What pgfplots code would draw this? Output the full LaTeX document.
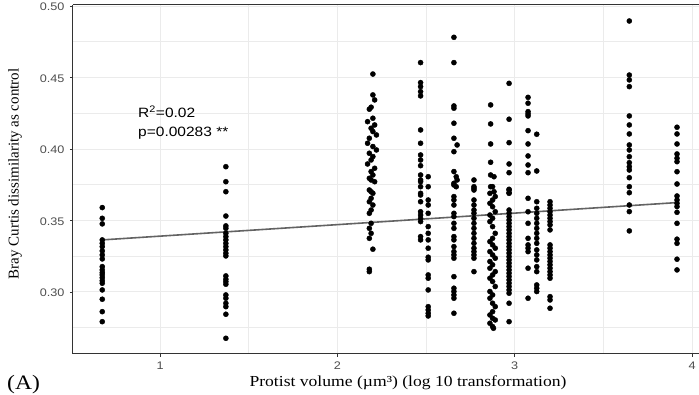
\documentclass[border=0pt]{standalone}
\usepackage{fontspec}
\setmainfont{Liberation Serif}
\setsansfont{Liberation Sans}
\newfontfamily\hserif[FakeStretch=1.15]{Liberation Serif}
\newfontfamily\hsans[FakeStretch=1.15]{Liberation Sans}
\usepackage{pgfplots}
\pgfplotsset{compat=1.18}
\definecolor{gridc}{HTML}{EBEBEB}
\definecolor{tickc}{HTML}{4D4D4D}
\definecolor{axc}{HTML}{333333}
\definecolor{linec}{HTML}{636363}
\begin{document}
\begin{tikzpicture}
\begin{axis}[
  name=ax, at={(0,0)}, anchor=south west,
  scale only axis, width=626pt, height=349pt,
  xmin=0.509, xmax=4.039, ymin=0.2566, ymax=0.5007,
  axis line style={draw=none},
  xtick={1,2,3,4}, ytick={0.30,0.35,0.40,0.45,0.50},
  minor xtick={0.5,1.5,2.5,3.5},
  minor ytick={0.275,0.325,0.375,0.425,0.475},
  grid=both,
  major grid style={gridc, line width=0.9pt},
  minor grid style={gridc, line width=0.6pt},
  xtick pos=bottom, ytick pos=left,
  tick align=outside, major tick length=3pt, minor tick length=0pt,
  tick style={axc, line width=0.8pt},
  /pgf/number format/assume math mode=true,
  ticklabel style={font=\hsans\fontsize{11}{11}\selectfont, text=tickc},
  yticklabel style={/pgf/number format/fixed, /pgf/number format/fixed zerofill, /pgf/number format/precision=2, xshift=-2pt, yshift=-1pt},
  xticklabel style={yshift=-1pt},
]
\addplot[only marks, mark=*, mark size=2.55pt, black] coordinates {
(0.674,0.359) (0.674,0.3515) (0.674,0.3476) (0.674,0.3364) (0.674,0.334) (0.674,0.3317) (0.674,0.3287) (0.674,0.3259) (0.674,0.3231) (0.674,0.3177) (0.674,0.3154) (0.674,0.3135) (0.674,0.3119) (0.674,0.31) (0.674,0.3079) (0.674,0.3061) (0.674,0.3014) (0.674,0.2949) (0.674,0.2862) (0.674,0.2792)
(1.371,0.3876) (1.371,0.3771) (1.371,0.3701) (1.371,0.3531) (1.371,0.3462) (1.371,0.3445) (1.371,0.341) (1.371,0.3387) (1.371,0.3364) (1.371,0.334) (1.371,0.3317) (1.371,0.3294) (1.371,0.3271) (1.371,0.3252) (1.371,0.3112) (1.371,0.3089) (1.371,0.3072) (1.371,0.3054) (1.371,0.2979) (1.371,0.2956) (1.371,0.2921) (1.371,0.2897) (1.371,0.2844) (1.371,0.2676)
(2.20,0.4524) (2.20,0.4378) (2.21,0.4343) (2.19,0.4292) (2.18,0.4278) (2.20,0.4215) (2.17,0.4191) (2.21,0.4168) (2.19,0.4145) (2.20,0.4122) (2.22,0.4098) (2.18,0.4075) (2.17,0.404) (2.20,0.4017) (2.22,0.3993) (2.18,0.397) (2.20,0.3947) (2.19,0.3923) (2.17,0.3895) (2.21,0.3865) (2.19,0.3842) (2.20,0.3818) (2.18,0.3795) (2.21,0.3771) (2.19,0.3701)
(2.19,0.3783) (2.18,0.3713) (2.20,0.369) (2.19,0.3655) (2.18,0.3631) (2.20,0.3608) (2.19,0.3573) (2.18,0.355) (2.19,0.348) (2.18,0.3445) (2.19,0.341) (2.18,0.3375) (2.20,0.3299) (2.18,0.3159) (2.18,0.3142)
(2.469,0.4604) (2.469,0.4464) (2.469,0.4436) (2.469,0.4401) (2.469,0.4371) (2.469,0.4133) (2.469,0.404) (2.469,0.3958) (2.469,0.3923) (2.469,0.3883) (2.469,0.3818) (2.469,0.3783) (2.469,0.3736) (2.469,0.369) (2.469,0.3771) (2.469,0.3678) (2.469,0.3631) (2.469,0.3561) (2.469,0.3538) (2.469,0.3515) (2.469,0.3492) (2.469,0.3387) (2.469,0.3364)
(2.512,0.3806) (2.512,0.3736) (2.512,0.3643) (2.512,0.3608) (2.512,0.355) (2.512,0.3457) (2.512,0.341) (2.512,0.3364) (2.512,0.3306) (2.512,0.3243) (2.512,0.3224) (2.512,0.3119) (2.512,0.3096) (2.512,0.3014) (2.512,0.2897) (2.512,0.2874) (2.512,0.2851) (2.512,0.2832)
(2.657,0.4781) (2.657,0.4604) (2.657,0.4301) (2.657,0.4285) (2.657,0.418) (2.657,0.4075) (2.675,0.4028) (2.657,0.3981) (2.657,0.3842) (2.67,0.3806) (2.675,0.3783) (2.657,0.3748) (2.67,0.3736) (2.657,0.376) (2.657,0.3667) (2.657,0.3643) (2.657,0.3608) (2.657,0.355) (2.657,0.3527) (2.657,0.348) (2.657,0.3445) (2.657,0.3387) (2.657,0.3364) (2.657,0.3317) (2.657,0.3282) (2.657,0.3259) (2.657,0.3236) (2.657,0.3107) (2.657,0.3026) (2.657,0.3003) (2.657,0.2979) (2.657,0.2956) (2.657,0.2851)
(2.77,0.3783) (2.77,0.3736) (2.77,0.3713) (2.77,0.3725) (2.77,0.3643) (2.77,0.3608) (2.77,0.3573) (2.77,0.355) (2.77,0.3515) (2.77,0.348) (2.77,0.3445) (2.77,0.341) (2.77,0.3375) (2.77,0.334) (2.77,0.3306) (2.77,0.3282) (2.77,0.3259) (2.77,0.3236) (2.77,0.3142)
(2.864,0.4308) (2.864,0.4175) (2.864,0.4035) (2.864,0.3907) (2.864,0.3818) (2.883,0.3806) (2.864,0.3736) (2.883,0.3701)
(2.875,0.3736) (2.86,0.369) (2.89,0.3667) (2.875,0.3643) (2.86,0.362) (2.875,0.3596) (2.89,0.3561) (2.86,0.3538) (2.875,0.3515) (2.86,0.3492) (2.875,0.3457) (2.89,0.341) (2.875,0.3375) (2.86,0.3352) (2.875,0.3329) (2.89,0.3306) (2.86,0.3282) (2.875,0.3259) (2.89,0.3236) (2.86,0.3213) (2.875,0.319) (2.86,0.3166) (2.89,0.3142) (2.875,0.3119) (2.86,0.3096) (2.875,0.3073) (2.89,0.3038) (2.86,0.3003) (2.875,0.2979) (2.86,0.2956) (2.875,0.2921) (2.89,0.2897) (2.875,0.2862) (2.86,0.2839) (2.875,0.2816) (2.89,0.2804) (2.86,0.2781) (2.875,0.2758) (2.88,0.2746)
(2.968,0.4459) (2.968,0.4208) (2.968,0.4044) (2.968,0.3895) (2.968,0.3834) (2.968,0.3718) (2.968,0.3694) (2.968,0.3713) (2.968,0.369) (2.968,0.3573) (2.968,0.355) (2.968,0.3527) (2.968,0.3503) (2.968,0.348) (2.968,0.3457) (2.968,0.3434) (2.968,0.341) (2.968,0.3387) (2.968,0.3364) (2.968,0.334) (2.968,0.3317) (2.968,0.3294) (2.968,0.3271) (2.968,0.3247) (2.968,0.3224) (2.968,0.3201) (2.968,0.3178) (2.968,0.3154) (2.968,0.3131) (2.968,0.3108) (2.968,0.3084) (2.968,0.3061) (2.968,0.3038) (2.968,0.3014) (2.968,0.2991) (2.968,0.2921) (2.968,0.2792)
(3.075,0.4361) (3.075,0.432) (3.075,0.4261) (3.075,0.4245) (3.075,0.4231) (3.075,0.4128) (3.075,0.4035) (3.075,0.3951) (3.075,0.3888) (3.075,0.3834) (3.075,0.3655) (3.075,0.3561) (3.075,0.348) (3.075,0.3375) (3.075,0.3329) (3.075,0.3306) (3.075,0.3282) (3.075,0.3166) (3.075,0.2956)
(3.124,0.4103) (3.124,0.3846) (3.124,0.3631) (3.124,0.3585) (3.124,0.355) (3.124,0.3515) (3.124,0.348) (3.124,0.3445) (3.124,0.341) (3.124,0.3375) (3.124,0.334) (3.124,0.3294) (3.124,0.3259) (3.124,0.3224) (3.124,0.3177) (3.124,0.3142) (3.124,0.3049) (3.124,0.3026) (3.124,0.3003)
(3.199,0.3631) (3.199,0.3608) (3.199,0.3585) (3.199,0.3561) (3.199,0.3538) (3.199,0.3515) (3.199,0.3492) (3.199,0.3469) (3.199,0.3434) (3.199,0.3329) (3.199,0.3306) (3.199,0.3282) (3.199,0.3259) (3.199,0.3236) (3.199,0.3213) (3.199,0.319) (3.199,0.3166) (3.199,0.3142) (3.199,0.3119) (3.199,0.3096) (3.199,0.2967) (3.199,0.2944) (3.199,0.2886)
(3.646,0.4895) (3.646,0.4517) (3.646,0.4483) (3.646,0.4436) (3.646,0.4231) (3.646,0.4168) (3.646,0.4105) (3.646,0.4028) (3.646,0.3993) (3.646,0.3946) (3.646,0.3904) (3.646,0.3876) (3.646,0.3853) (3.646,0.3799) (3.646,0.3736) (3.646,0.3694) (3.646,0.3608) (3.646,0.3562) (3.646,0.3427)
(3.915,0.4152) (3.915,0.4105) (3.915,0.4035) (3.915,0.3965) (3.915,0.3935) (3.915,0.3911) (3.915,0.3841) (3.915,0.3755) (3.915,0.3671) (3.915,0.3643) (3.915,0.362) (3.915,0.3597) (3.915,0.3557) (3.915,0.348) (3.915,0.3369) (3.915,0.334) (3.915,0.3229) (3.915,0.3154)
};
\addplot[linec, line width=1.6pt] coordinates {(0.674,0.3364) (3.915,0.3625)};
\end{axis}
\draw[axc, line width=1pt] (ax.north west) -- (ax.south west) -- (ax.south east);
\draw[axc, line width=1pt] (ax.north west) -- (ax.north east);
\node[anchor=base west, inner sep=0pt, font=\hsans\fontsize{13.5}{13.5}\selectfont] at (65pt,236.7pt) {R\textsuperscript{2}=0.02};
\node[anchor=base west, inner sep=0pt, font=\hsans\fontsize{13.5}{13.5}\selectfont] at (65pt,217.3pt) {p=0.00283 **};
\node[anchor=base, inner sep=0pt, font=\hserif\fontsize{15.3}{15.3}\selectfont] at (335pt,-32.7pt) {Protist volume (µm³) (log 10 transformation)};
\node[rotate=90, anchor=center, inner sep=0pt, font=\fontsize{15}{15}\selectfont] at (-58pt,180pt) {Bray Curtis dissimilarity as control};
\node[anchor=base west, inner sep=0pt, font=\hserif\fontsize{20.5}{20.5}\selectfont] at (-66pt,-35.5pt) {(A)};
\pgfresetboundingbox
\path[use as bounding box] (-73pt,-41pt) rectangle (626pt,354pt);
\end{tikzpicture}
\end{document}
